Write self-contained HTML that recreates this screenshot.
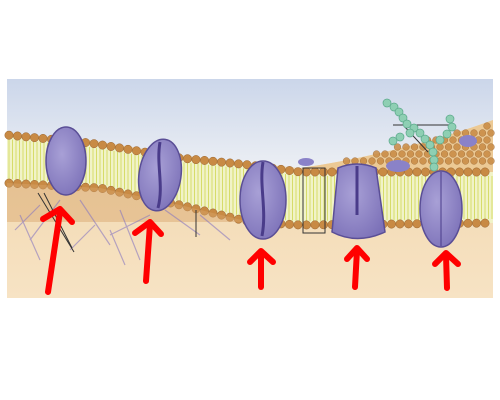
<!DOCTYPE html>
<html><head><meta charset="utf-8"><style>
html,body{margin:0;padding:0;background:#fff;width:500px;height:400px;overflow:hidden}
svg{display:block}
</style></head><body>
<svg id="s" width="500" height="400" viewBox="0 0 500 400">
<defs>
<linearGradient id="sky" x1="0" y1="0" x2="0" y2="1"><stop offset="0" stop-color="#cbd6ea"/><stop offset="1" stop-color="#eceff4"/></linearGradient>
<linearGradient id="cyto" x1="0" y1="0" x2="0" y2="1"><stop offset="0" stop-color="#efd3a6"/><stop offset="1" stop-color="#f7e3c4"/></linearGradient>
<radialGradient id="prot" cx="0.4" cy="0.4" r="0.7"><stop offset="0" stop-color="#a8a0d6"/><stop offset="1" stop-color="#7c71b8"/></radialGradient>
</defs>
<rect x="7" y="79" width="486" height="219" fill="url(#cyto)"/>
<path d="M7,79 H493 V120 C440,140 360,160 300,168 L250,163 L180,155 L90,140 L7,133 Z" fill="url(#sky)"/>
<path d="M300,168 C360,160 440,140 493,120 V172 H300 Z" fill="#ecc994"/>
<path d="M7,135 L90,143 L180,158 L250,165 L300,172 L493,172 L493,223 L300,225 L250,222 L180,205 L100,188 L7,183 Z" fill="#f1f3c8"/>
<g id="tails" stroke="#d6dc6a" stroke-width="1"></g>
<g id="beads" fill="#c88a44" stroke="#9a6530" stroke-width="0.5"></g>
<path d="M7,183 L100,188 L180,205 L250,222 L7,222 Z" fill="#d7a56a" opacity="0.45"/>
<g stroke="#8878c0" stroke-width="1.2" fill="none" opacity="0.6">
<path d="M20,215 L40,260 M60,200 L30,240 M80,200 L110,245 M120,210 L140,260 M150,215 L110,235 M165,210 L200,235 M110,230 L125,265 M95,225 L70,250 M200,215 L230,240 M40,205 L15,230"/>
</g>
<g stroke="#333" stroke-width="1">
<line x1="38" y1="193" x2="74" y2="252"/><line x1="44" y1="193" x2="72" y2="248"/>
<line x1="196" y1="210" x2="196" y2="237"/>
<line x1="393" y1="125" x2="454" y2="125"/><line x1="404" y1="126" x2="428" y2="152"/>
</g>
<g fill="url(#prot)" stroke="#5a4e96" stroke-width="1.5">
<ellipse cx="66" cy="161" rx="20" ry="34"/>
<ellipse cx="160" cy="175" rx="21" ry="36" transform="rotate(8 160 175)"/>
<ellipse cx="263" cy="200" rx="23" ry="39"/>
<path d="M338,168 Q357,160 376,168 L385,232 Q357,245 332,232 Z"/>
<ellipse cx="441" cy="209" rx="21" ry="38"/>
</g>
<g stroke="#4a3c8a" stroke-width="3" fill="none">
<path d="M160,142 C156,165 164,185 158,208"/><path d="M263,162 C259,185 267,210 262,236"/>
<path d="M357,166 V215"/><path d="M441,172 V246" stroke-width="1"/>
</g>
<g fill="#8ecfb3" stroke="#5aa88a" stroke-width="0.7">
<circle cx="387" cy="103" r="4"/><circle cx="394" cy="107" r="4"/><circle cx="399" cy="112" r="4"/><circle cx="403" cy="118" r="4"/><circle cx="407" cy="124" r="4"/><circle cx="414" cy="128" r="4"/><circle cx="420" cy="133" r="4"/><circle cx="425" cy="139" r="4"/><circle cx="430" cy="145" r="4"/><circle cx="433" cy="152" r="4"/><circle cx="434" cy="160" r="4"/><circle cx="434" cy="167" r="4"/><circle cx="440" cy="140" r="4"/><circle cx="447" cy="134" r="4"/><circle cx="452" cy="127" r="4"/><circle cx="450" cy="119" r="4"/><circle cx="400" cy="137" r="4"/><circle cx="393" cy="141" r="4"/><circle cx="410" cy="133" r="4"/>
</g>
<ellipse cx="306" cy="162" rx="8" ry="4" fill="#8a82c8"/><ellipse cx="398" cy="166" rx="12" ry="6" fill="#8a82c8"/><ellipse cx="468" cy="141" rx="9" ry="6" fill="#8a82c8"/>
<rect x="303" y="168" width="22" height="65" fill="none" stroke="#333" stroke-width="1"/>
<g stroke="#f00" stroke-width="6" fill="none" stroke-linecap="round" stroke-linejoin="round">
<g><line x1="48" y1="292" x2="60" y2="212"/><polyline points="43,219 60,209 72,222"/></g>
<g><line x1="146" y1="281" x2="150" y2="224"/><polyline points="135,233 150,222 161,234"/></g>
<g><line x1="261" y1="287" x2="261" y2="253"/><polyline points="250,262 261,251 273,262"/></g>
<g><line x1="355" y1="287" x2="357" y2="250"/><polyline points="347,259 357,248 367,259"/></g>
<g><line x1="447" y1="288" x2="446" y2="255"/><polyline points="435,264 446,253 458,264"/></g>
</g>
</svg>
<script>
var NS="http://www.w3.org/2000/svg";
function topY(x){var p=[[7,135],[90,143],[180,158],[250,165],[300,172],[493,172]];for(var i=1;i<p.length;i++)if(x<=p[i][0]){var t=(x-p[i-1][0])/(p[i][0]-p[i-1][0]);return p[i-1][1]+t*(p[i][1]-p[i-1][1]);}return 172;}
function botY(x){var p=[[7,183],[100,188],[180,205],[250,222],[300,225],[493,223]];for(var i=1;i<p.length;i++)if(x<=p[i][0]){var t=(x-p[i-1][0])/(p[i][0]-p[i-1][0]);return p[i-1][1]+t*(p[i][1]-p[i-1][1]);}return 223;}
var tails=document.getElementById('tails'),beads=document.getElementById('beads');
for(var x=9;x<493;x+=3.5){var l=document.createElementNS(NS,'line');l.setAttribute('x1',x);l.setAttribute('x2',x);l.setAttribute('y1',topY(x)+4);l.setAttribute('y2',botY(x)-4);tails.appendChild(l);}
for(var y=126;y<168;y+=7){var row=Math.round((y-126)/7);for(var x=300+(row%2)*4;x<493;x+=8.5){var lim=168-(x-300)*48/193+3;if(y<lim)continue;var c=document.createElementNS(NS,'circle');c.setAttribute('cx',x);c.setAttribute('cy',y);c.setAttribute('r',3.4);c.setAttribute('opacity','0.85');beads.appendChild(c);}}
for(var x=9;x<493;x+=8.5){[topY(x),botY(x)].forEach(function(y){var c=document.createElementNS(NS,'circle');c.setAttribute('cx',x);c.setAttribute('cy',y);c.setAttribute('r',4.2);beads.appendChild(c);});}
</script>
</body></html>
